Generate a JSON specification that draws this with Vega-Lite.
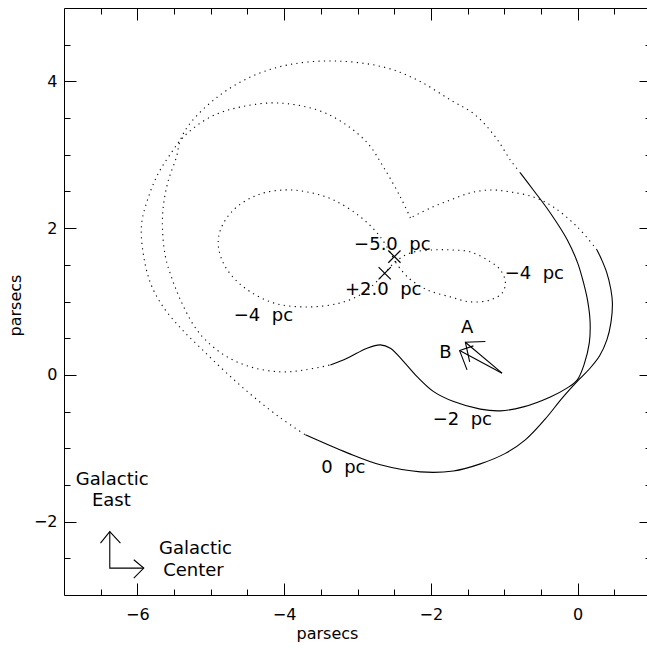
{
  "$schema": "https://vega.github.io/schema/vega-lite/v6.json",
  "width": 587,
  "height": 587,
  "autosize": {"type": "none"},
  "padding": {"left": 64, "top": 8, "right": -4, "bottom": 53},
  "background": "white",
  "config": {
    "view": {"stroke": null},
    "axis": {"grid": false, "domainColor": "black", "tickColor": "black", "labelColor": "black", "titleColor": "black", "labelFont": "DejaVu Sans", "titleFont": "DejaVu Sans", "labelFontSize": 16, "titleFontSize": 16, "titleFontWeight": "normal", "domainWidth": 1, "tickWidth": 1, "labelOverlap": false, "labelFlush": false}
  },
  "datasets": {
    "dotted": [
      {"path": "p0a", "i": 0, "x": 0.264, "y": 1.703},
      {"path": "p0a", "i": 1, "x": -0.004, "y": 2.016},
      {"path": "p0a", "i": 2, "x": -0.331, "y": 2.289},
      {"path": "p0a", "i": 3, "x": -0.604, "y": 2.425},
      {"path": "p0a", "i": 4, "x": -0.917, "y": 2.493},
      {"path": "p0a", "i": 5, "x": -1.189, "y": 2.52},
      {"path": "p0a", "i": 6, "x": -1.462, "y": 2.48},
      {"path": "p0a", "i": 7, "x": -1.734, "y": 2.384},
      {"path": "p0a", "i": 8, "x": -2.007, "y": 2.275},
      {"path": "p0a", "i": 9, "x": -2.279, "y": 2.139},
      {"path": "p0b", "i": 0, "x": -2.279, "y": 2.139},
      {"path": "p0b", "i": 1, "x": -2.416, "y": 2.425},
      {"path": "p0b", "i": 2, "x": -2.647, "y": 2.834},
      {"path": "p0b", "i": 3, "x": -2.865, "y": 3.161},
      {"path": "p0b", "i": 4, "x": -3.192, "y": 3.433},
      {"path": "p0b", "i": 5, "x": -3.546, "y": 3.61},
      {"path": "p0b", "i": 6, "x": -4.091, "y": 3.706},
      {"path": "p0b", "i": 7, "x": -4.595, "y": 3.651},
      {"path": "p0b", "i": 8, "x": -5.004, "y": 3.515},
      {"path": "p0b", "i": 9, "x": -5.372, "y": 3.243},
      {"path": "p0b", "i": 10, "x": -5.576, "y": 2.97},
      {"path": "p0b", "i": 11, "x": -5.726, "y": 2.725},
      {"path": "p0b", "i": 12, "x": -5.862, "y": 2.384},
      {"path": "p0b", "i": 13, "x": -5.944, "y": 2.044},
      {"path": "p0b", "i": 14, "x": -5.917, "y": 1.635},
      {"path": "p0b", "i": 15, "x": -5.822, "y": 1.253},
      {"path": "p0b", "i": 16, "x": -5.658, "y": 0.94},
      {"path": "p0b", "i": 17, "x": -5.413, "y": 0.64},
      {"path": "p0b", "i": 18, "x": -5.14, "y": 0.368},
      {"path": "p0b", "i": 19, "x": -4.8, "y": 0.041},
      {"path": "p0b", "i": 20, "x": -4.432, "y": -0.286},
      {"path": "p0b", "i": 21, "x": -4.05, "y": -0.586},
      {"path": "p0b", "i": 22, "x": -3.71, "y": -0.817},
      {"path": "p2d", "i": 0, "x": -0.781, "y": 2.752},
      {"path": "p2d", "i": 1, "x": -0.917, "y": 2.929},
      {"path": "p2d", "i": 2, "x": -1.121, "y": 3.243},
      {"path": "p2d", "i": 3, "x": -1.394, "y": 3.542},
      {"path": "p2d", "i": 4, "x": -1.734, "y": 3.747},
      {"path": "p2d", "i": 5, "x": -2.184, "y": 4.019},
      {"path": "p2d", "i": 6, "x": -2.647, "y": 4.196},
      {"path": "p2d", "i": 7, "x": -3.328, "y": 4.278},
      {"path": "p2d", "i": 8, "x": -3.955, "y": 4.223},
      {"path": "p2d", "i": 9, "x": -4.459, "y": 4.06},
      {"path": "p2d", "i": 10, "x": -4.909, "y": 3.787},
      {"path": "p2d", "i": 11, "x": -5.277, "y": 3.433},
      {"path": "p2d", "i": 12, "x": -5.413, "y": 3.202},
      {"path": "p2d", "i": 13, "x": -5.467, "y": 2.97},
      {"path": "p2d", "i": 14, "x": -5.576, "y": 2.657},
      {"path": "p2d", "i": 15, "x": -5.644, "y": 2.316},
      {"path": "p2d", "i": 16, "x": -5.658, "y": 2.003},
      {"path": "p2d", "i": 17, "x": -5.617, "y": 1.608},
      {"path": "p2d", "i": 18, "x": -5.522, "y": 1.294},
      {"path": "p2d", "i": 19, "x": -5.413, "y": 1.022},
      {"path": "p2d", "i": 20, "x": -5.236, "y": 0.681},
      {"path": "p2d", "i": 21, "x": -5.072, "y": 0.477},
      {"path": "p2d", "i": 22, "x": -4.8, "y": 0.259},
      {"path": "p2d", "i": 23, "x": -4.459, "y": 0.109},
      {"path": "p2d", "i": 24, "x": -4.05, "y": 0.041},
      {"path": "p2d", "i": 25, "x": -3.71, "y": 0.068},
      {"path": "p2d", "i": 26, "x": -3.369, "y": 0.136},
      {"path": "f8", "i": 0, "x": -2.484, "y": 1.54},
      {"path": "f8", "i": 1, "x": -2.688, "y": 1.88},
      {"path": "f8", "i": 2, "x": -2.96, "y": 2.153},
      {"path": "f8", "i": 3, "x": -3.328, "y": 2.384},
      {"path": "f8", "i": 4, "x": -3.683, "y": 2.493},
      {"path": "f8", "i": 5, "x": -4.01, "y": 2.52},
      {"path": "f8", "i": 6, "x": -4.364, "y": 2.452},
      {"path": "f8", "i": 7, "x": -4.691, "y": 2.248},
      {"path": "f8", "i": 8, "x": -4.868, "y": 1.975},
      {"path": "f8", "i": 9, "x": -4.895, "y": 1.744},
      {"path": "f8", "i": 10, "x": -4.8, "y": 1.471},
      {"path": "f8", "i": 11, "x": -4.554, "y": 1.199},
      {"path": "f8", "i": 12, "x": -4.146, "y": 0.981},
      {"path": "f8", "i": 13, "x": -3.683, "y": 0.926},
      {"path": "f8", "i": 14, "x": -3.233, "y": 0.981},
      {"path": "f8", "i": 15, "x": -2.92, "y": 1.117},
      {"path": "f8", "i": 16, "x": -2.688, "y": 1.322},
      {"path": "f8", "i": 17, "x": -2.484, "y": 1.54},
      {"path": "f8", "i": 18, "x": -2.28, "y": 1.662},
      {"path": "f8", "i": 19, "x": -1.966, "y": 1.703},
      {"path": "f8", "i": 20, "x": -1.734, "y": 1.703},
      {"path": "f8", "i": 21, "x": -1.462, "y": 1.676},
      {"path": "f8", "i": 22, "x": -1.189, "y": 1.54},
      {"path": "f8", "i": 23, "x": -1.053, "y": 1.431},
      {"path": "f8", "i": 24, "x": -0.985, "y": 1.267},
      {"path": "f8", "i": 25, "x": -1.026, "y": 1.117},
      {"path": "f8", "i": 26, "x": -1.189, "y": 1.022},
      {"path": "f8", "i": 27, "x": -1.462, "y": 0.995},
      {"path": "f8", "i": 28, "x": -1.734, "y": 1.063},
      {"path": "f8", "i": 29, "x": -2.048, "y": 1.158},
      {"path": "f8", "i": 30, "x": -2.32, "y": 1.335},
      {"path": "f8", "i": 31, "x": -2.484, "y": 1.54}
    ],
    "solid": [
      {"path": "p0s", "i": 0, "x": -3.71, "y": -0.817},
      {"path": "p0s", "i": 1, "x": -3.138, "y": -1.063},
      {"path": "p0s", "i": 2, "x": -2.688, "y": -1.226},
      {"path": "p0s", "i": 3, "x": -2.143, "y": -1.322},
      {"path": "p0s", "i": 4, "x": -1.693, "y": -1.31},
      {"path": "p0s", "i": 5, "x": -1.326, "y": -1.213},
      {"path": "p0s", "i": 6, "x": -0.985, "y": -1.07},
      {"path": "p0s", "i": 7, "x": -0.713, "y": -0.886},
      {"path": "p0s", "i": 8, "x": -0.44, "y": -0.6},
      {"path": "p0s", "i": 9, "x": -0.208, "y": -0.313},
      {"path": "p0s", "i": 10, "x": 0.014, "y": -0.068},
      {"path": "p0s", "i": 11, "x": 0.16, "y": 0.08},
      {"path": "p0s", "i": 12, "x": 0.3, "y": 0.26},
      {"path": "p0s", "i": 13, "x": 0.4, "y": 0.48},
      {"path": "p0s", "i": 14, "x": 0.455, "y": 0.72},
      {"path": "p0s", "i": 15, "x": 0.474, "y": 0.98},
      {"path": "p0s", "i": 16, "x": 0.452, "y": 1.17},
      {"path": "p0s", "i": 17, "x": 0.395, "y": 1.4},
      {"path": "p0s", "i": 18, "x": 0.323, "y": 1.58},
      {"path": "p0s", "i": 19, "x": 0.264, "y": 1.703},
      {"path": "p2s", "i": 0, "x": -3.369, "y": 0.136},
      {"path": "p2s", "i": 1, "x": -3.142, "y": 0.228},
      {"path": "p2s", "i": 2, "x": -2.869, "y": 0.364},
      {"path": "p2s", "i": 3, "x": -2.688, "y": 0.409},
      {"path": "p2s", "i": 4, "x": -2.552, "y": 0.364},
      {"path": "p2s", "i": 5, "x": -2.371, "y": 0.181},
      {"path": "p2s", "i": 6, "x": -2.188, "y": -0.023},
      {"path": "p2s", "i": 7, "x": -1.962, "y": -0.228},
      {"path": "p2s", "i": 8, "x": -1.689, "y": -0.364},
      {"path": "p2s", "i": 9, "x": -1.326, "y": -0.467},
      {"path": "p2s", "i": 10, "x": -1.053, "y": -0.49},
      {"path": "p2s", "i": 11, "x": -0.74, "y": -0.436},
      {"path": "p2s", "i": 12, "x": -0.372, "y": -0.3},
      {"path": "p2s", "i": 13, "x": -0.14, "y": -0.177},
      {"path": "p2s", "i": 14, "x": -0.004, "y": -0.068},
      {"path": "p2s", "i": 15, "x": 0.091, "y": 0.15},
      {"path": "p2s", "i": 16, "x": 0.159, "y": 0.436},
      {"path": "p2s", "i": 17, "x": 0.17, "y": 0.722},
      {"path": "p2s", "i": 18, "x": 0.139, "y": 0.995},
      {"path": "p2s", "i": 19, "x": 0.082, "y": 1.249},
      {"path": "p2s", "i": 20, "x": 0.0, "y": 1.526},
      {"path": "p2s", "i": 21, "x": -0.14, "y": 1.839},
      {"path": "p2s", "i": 22, "x": -0.372, "y": 2.207},
      {"path": "p2s", "i": 23, "x": -0.604, "y": 2.52},
      {"path": "p2s", "i": 24, "x": -0.781, "y": 2.752}
    ],
    "arrows": [
      {"path": "gL", "i": 0, "x": -6.376, "y": -2.135},
      {"path": "gL", "i": 1, "x": -6.376, "y": -2.634},
      {"path": "gL", "i": 2, "x": -5.913, "y": -2.634},
      {"path": "gV", "i": 0, "x": -6.503, "y": -2.293},
      {"path": "gV", "i": 1, "x": -6.376, "y": -2.135},
      {"path": "gV", "i": 2, "x": -6.231, "y": -2.293},
      {"path": "gH", "i": 0, "x": -6.049, "y": -2.52},
      {"path": "gH", "i": 1, "x": -5.913, "y": -2.634},
      {"path": "gH", "i": 2, "x": -6.049, "y": -2.77},
      {"path": "aS", "i": 0, "x": -1.03, "y": 0.023},
      {"path": "aS", "i": 1, "x": -1.53, "y": 0.445},
      {"path": "aH", "i": 0, "x": -1.257, "y": 0.454},
      {"path": "aH", "i": 1, "x": -1.53, "y": 0.445},
      {"path": "aH", "i": 2, "x": -1.471, "y": 0.177},
      {"path": "bS", "i": 0, "x": -1.03, "y": 0.023},
      {"path": "bS", "i": 1, "x": -1.608, "y": 0.331},
      {"path": "bH", "i": 0, "x": -1.507, "y": 0.068},
      {"path": "bH", "i": 1, "x": -1.608, "y": 0.331},
      {"path": "bH", "i": 2, "x": -1.421, "y": 0.395}
    ],
    "marks": [
      {"label": "−5.0 pc", "x": -2.497, "y": 1.612},
      {"label": "+2.0 pc", "x": -2.629, "y": 1.386}
    ],
    "texts": [
      {"text": "−5.0\u00a0 pc", "x": -2.525, "y": 1.771},
      {"text": "+2.0\u00a0 pc", "x": -2.649, "y": 1.158},
      {"text": "−4\u00a0 pc", "x": -4.282, "y": 0.804},
      {"text": "−4\u00a0 pc", "x": -0.59, "y": 1.376},
      {"text": "−2\u00a0 pc", "x": -1.571, "y": -0.613},
      {"text": "0\u00a0 pc", "x": -3.192, "y": -1.267},
      {"text": "A", "x": -1.507, "y": 0.636},
      {"text": "B", "x": -1.802, "y": 0.3},
      {"text": "Galactic", "x": -6.342, "y": -1.431},
      {"text": "East", "x": -6.355, "y": -1.717},
      {"text": "Galactic", "x": -5.208, "y": -2.371},
      {"text": "Center", "x": -5.236, "y": -2.67}
    ]
  },
  "resolve": {"axis": {"x": "independent", "y": "independent"}},
  "layer": [
    {
      "data": {"name": "dotted"},
      "mark": {"type": "line", "interpolate": "catmull-rom", "strokeDash": [1.2, 4.3], "strokeWidth": 1.1, "color": "black"},
      "encoding": {
        "x": {"field": "x", "type": "quantitative", "scale": {"domain": [-7, 1], "nice": false, "zero": false},
          "axis": {"orient": "bottom", "values": [-6.5, -6, -5.5, -5, -4.5, -4, -3.5, -3, -2.5, -2, -1.5, -1, -0.5, 0, 0.5], "tickSize": -6, "labels": false, "title": null, "domain": true}},
        "y": {"field": "y", "type": "quantitative", "scale": {"domain": [-3, 5], "nice": false, "zero": false},
          "axis": {"orient": "left", "values": [-2.5, -2, -1.5, -1, -0.5, 0, 0.5, 1, 1.5, 2, 2.5, 3, 3.5, 4, 4.5], "tickSize": -6, "labels": false, "title": null, "domain": true}},
        "detail": {"field": "path", "type": "nominal"},
        "order": {"field": "i", "type": "quantitative"}
      }
    },
    {
      "data": {"name": "solid"},
      "mark": {"type": "line", "interpolate": "catmull-rom", "strokeWidth": 1.1, "color": "black"},
      "encoding": {
        "x": {"field": "x", "type": "quantitative", "scale": {"domain": [-7, 1], "nice": false, "zero": false},
          "axis": {"orient": "bottom", "values": [-6, -4, -2, 0], "tickSize": -12, "labels": false, "title": null, "domain": false}},
        "y": {"field": "y", "type": "quantitative", "scale": {"domain": [-3, 5], "nice": false, "zero": false},
          "axis": {"orient": "left", "values": [-2, 0, 2, 4], "tickSize": -12, "labels": false, "title": null, "domain": false}},
        "detail": {"field": "path", "type": "nominal"},
        "order": {"field": "i", "type": "quantitative"}
      }
    },
    {
      "mark": {"type": "rule", "color": "black", "strokeWidth": 1},
      "encoding": {"x": {"datum": 0, "type": "quantitative", "scale": {"domain": [-7, 1], "nice": false, "zero": false}, "axis": null}}
    },
    {
      "mark": {"type": "rule", "color": "black", "strokeWidth": 1},
      "encoding": {"y": {"datum": 0, "type": "quantitative", "scale": {"domain": [-3, 5], "nice": false, "zero": false}, "axis": null}}
    },
    {
      "data": {"name": "arrows"},
      "mark": {"type": "line", "strokeWidth": 1.1, "color": "black"},
      "encoding": {
        "x": {"field": "x", "type": "quantitative", "scale": {"domain": [-7, 1], "nice": false, "zero": false},
          "axis": {"orient": "top", "values": [-6, -4, -2, 0], "tickSize": -12, "labels": false, "title": null, "domain": true}},
        "y": {"field": "y", "type": "quantitative", "scale": {"domain": [-3, 5], "nice": false, "zero": false},
          "axis": {"orient": "right", "values": [-2, 0, 2, 4], "tickSize": -12, "labels": false, "title": null, "domain": false}},
        "detail": {"field": "path", "type": "nominal"},
        "order": {"field": "i", "type": "quantitative"}
      }
    },
    {
      "data": {"name": "marks"},
      "mark": {"type": "point", "shape": "M-1,-1L1,1M-1,1L1,-1", "size": 150, "filled": false, "stroke": "black", "strokeWidth": 1.2, "opacity": 1},
      "encoding": {
        "x": {"field": "x", "type": "quantitative", "scale": {"domain": [-7, 1], "nice": false, "zero": false},
          "axis": {"orient": "top", "values": [-6.5, -6, -5.5, -5, -4.5, -4, -3.5, -3, -2.5, -2, -1.5, -1, -0.5, 0, 0.5], "tickSize": -6, "labels": false, "title": null, "domain": false}},
        "y": {"field": "y", "type": "quantitative", "scale": {"domain": [-3, 5], "nice": false, "zero": false},
          "axis": {"orient": "right", "values": [-2.5, -2, -1.5, -1, -0.5, 0, 0.5, 1, 1.5, 2, 2.5, 3, 3.5, 4, 4.5], "tickSize": -6, "labels": false, "title": null, "domain": false}}
      }
    },
    {
      "data": {"name": "texts"},
      "mark": {"type": "text", "font": "DejaVu Sans", "fontSize": 18, "color": "black", "align": "center", "baseline": "middle"},
      "encoding": {
        "x": {"field": "x", "type": "quantitative", "scale": {"domain": [-7, 1], "nice": false, "zero": false},
          "axis": {"orient": "bottom", "values": [-6, -4, -2, 0], "ticks": false, "domain": false, "labelPadding": 19, "labelBaseline": "middle", "title": "parsecs", "titleX": 263, "titleY": 43, "titleBaseline": "alphabetic", "titleAlign": "center"}},
        "y": {"field": "y", "type": "quantitative", "scale": {"domain": [-3, 5], "nice": false, "zero": false},
          "axis": {"orient": "left", "values": [-2, 0, 2, 4], "ticks": false, "domain": false, "labelPadding": 7, "labelAlign": "right", "labelBaseline": "middle", "title": "parsecs", "titleX": -49, "titleY": 297, "titleAngle": 270, "titleAlign": "center", "titleBaseline": "middle"}},
        "text": {"field": "text", "type": "nominal"}
      }
    }
  ]
}
